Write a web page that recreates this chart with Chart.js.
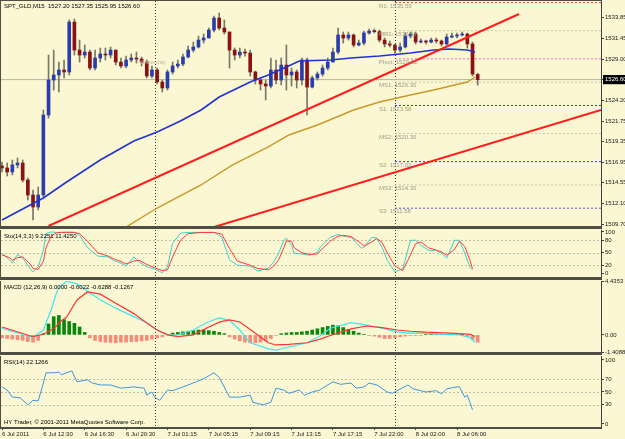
<!DOCTYPE html>
<html lang="en">

<head>
  <meta charset="UTF-8" />
  <title>SPT_GLD,M15</title>
  <script src="https://cdn.jsdelivr.net/npm/chart.js"></script>
  <style>
    body { margin: 0; background: #faf7d2; width: 625px; height: 439px; overflow: hidden; position: relative; }
    canvas { position: absolute; left: 0; }
  </style>
</head>

<body>
  <canvas id="priceChart" width="625" height="228" style="top:0px"></canvas>
  <canvas id="stochChart" width="625" height="54" style="top:226px"></canvas>
  <canvas id="macdChart" width="625" height="84" style="top:274px"></canvas>
  <canvas id="rsiChart" width="625" height="89" style="top:350px"></canvas>

  <script>
    // time axis (index = M15 bar number)
    const xTickIdx = [0, 16, 32, 48, 64, 80, 96, 112, 128, 144, 160, 176];
    const xTickLabels = ['6 Jul 2011', '6 Jul 12:30', '6 Jul 16:30', '6 Jul 20:30', '7 Jul 01:15', '7 Jul 05:15',
      '7 Jul 09:15', '7 Jul 13:15', '7 Jul 17:15', '7 Jul 22:00', '8 Jul 02:00', '8 Jul 06:00'];
    const daySeparators = [59, 152];

    // candles (one every 2 bars)
    const candleOpen = [1516.51, 1516.28, 1515.81, 1516.63, 1516.86, 1514.87, 1513.12, 1511.72, 1513.12, 1522.46,
      1526.55, 1527.14, 1527.72, 1527.49, 1533.32, 1530.05, 1529.47, 1529.82, 1527.95, 1529.12,
      1529.59, 1529.47, 1530.05, 1528.65, 1528.19, 1528.89, 1529.12, 1529.00, 1528.65, 1527.02,
      1527.72, 1526.32, 1525.62, 1527.49, 1528.19, 1528.42, 1529.24, 1530.05, 1530.41, 1531.22,
      1531.46, 1532.39, 1533.79, 1532.62, 1532.16, 1530.05, 1529.47, 1529.82, 1529.70, 1527.49,
      1526.55, 1526.09, 1525.85, 1527.72, 1526.55, 1528.30, 1527.14, 1527.49, 1526.55, 1528.89,
      1525.73, 1526.79, 1527.25, 1527.95, 1528.65, 1529.82, 1531.81, 1531.46, 1531.81, 1530.64,
      1530.87, 1532.04, 1532.27, 1532.20, 1531.22, 1530.76, 1530.64, 1530.05, 1530.41, 1531.69,
      1531.92, 1530.99, 1531.11, 1530.99, 1531.22, 1531.11, 1530.76, 1531.57, 1531.69, 1531.81,
      1531.92, 1530.76, 1527.20];
    const candleHigh = [1516.98, 1516.86, 1517.21, 1517.44, 1517.21, 1515.11, 1513.71, 1514.06, 1523.05, 1529.47,
      1530.05, 1528.65, 1528.89, 1533.56, 1533.67, 1531.22, 1530.64, 1530.05, 1530.05, 1530.29,
      1530.29, 1530.41, 1530.05, 1529.12, 1529.35, 1529.59, 1529.82, 1529.24, 1528.89, 1528.19,
      1527.95, 1526.55, 1527.72, 1528.65, 1528.89, 1529.59, 1530.52, 1530.99, 1531.69, 1531.92,
      1532.62, 1534.03, 1534.38, 1533.56, 1532.16, 1530.29, 1530.29, 1530.17, 1530.05, 1527.60,
      1526.79, 1526.55, 1529.12, 1528.89, 1529.12, 1530.64, 1527.95, 1527.72, 1529.12, 1529.12,
      1527.02, 1527.49, 1528.30, 1529.12, 1530.29, 1532.62, 1532.16, 1532.16, 1531.92, 1531.22,
      1532.27, 1532.51, 1532.51, 1532.39, 1531.46, 1531.11, 1530.76, 1530.87, 1532.04, 1532.16,
      1532.16, 1531.34, 1531.22, 1531.46, 1531.46, 1531.22, 1531.92, 1532.04, 1532.04, 1532.16,
      1532.04, 1530.99, 1527.35];
    const candleLow = [1515.81, 1515.34, 1515.46, 1516.28, 1514.64, 1512.54, 1510.20, 1511.37, 1512.89, 1522.11,
      1525.38, 1525.15, 1526.79, 1527.14, 1529.47, 1528.65, 1529.12, 1527.72, 1527.72, 1528.65,
      1528.89, 1529.12, 1528.30, 1527.95, 1527.95, 1528.65, 1528.54, 1528.19, 1526.79, 1526.79,
      1526.09, 1525.15, 1525.38, 1527.25, 1527.95, 1528.19, 1529.12, 1529.82, 1530.29, 1530.87,
      1531.46, 1532.16, 1532.39, 1531.92, 1527.95, 1528.89, 1529.12, 1529.35, 1527.02, 1526.09,
      1525.38, 1524.22, 1525.62, 1526.09, 1525.97, 1525.38, 1525.85, 1525.62, 1525.97, 1522.46,
      1525.62, 1526.55, 1527.02, 1527.72, 1528.65, 1529.59, 1530.87, 1531.22, 1530.41, 1530.52,
      1530.64, 1531.92, 1532.04, 1530.99, 1530.41, 1530.41, 1529.70, 1529.82, 1530.29, 1531.46,
      1530.76, 1530.87, 1530.76, 1530.87, 1530.87, 1530.52, 1530.64, 1531.46, 1531.46, 1531.69,
      1530.29, 1527.02, 1525.95];
    const candleClose = [1516.28, 1515.81, 1516.63, 1516.86, 1514.87, 1513.12, 1511.72, 1513.12, 1522.46, 1526.55,
      1527.14, 1527.72, 1527.49, 1533.32, 1530.05, 1529.47, 1529.82, 1527.95, 1529.12, 1529.59,
      1529.47, 1530.05, 1528.65, 1528.19, 1528.89, 1529.12, 1529.00, 1528.65, 1527.02, 1527.72,
      1526.32, 1525.62, 1527.49, 1528.19, 1528.42, 1529.24, 1530.05, 1530.41, 1531.22, 1531.46,
      1532.39, 1533.79, 1532.62, 1532.16, 1530.05, 1529.47, 1529.82, 1529.70, 1527.49, 1526.55,
      1526.09, 1525.85, 1527.72, 1526.55, 1528.30, 1527.14, 1527.49, 1526.55, 1528.89, 1525.73,
      1526.79, 1527.25, 1527.95, 1528.65, 1529.82, 1531.81, 1531.46, 1531.81, 1530.64, 1530.87,
      1532.04, 1532.27, 1532.20, 1531.22, 1530.76, 1530.64, 1530.05, 1530.41, 1531.69, 1531.92,
      1530.99, 1531.11, 1530.99, 1531.22, 1531.11, 1530.76, 1531.57, 1531.69, 1531.81, 1531.92,
      1530.76, 1527.25, 1526.60];

    // moving averages
    const maBlueX = [0, 16, 25, 38, 51, 60, 69, 77, 84, 96, 103, 110, 115, 127, 135, 146, 158, 167, 173, 180, 183];
    const maBlueY = [1510.20, 1512.77, 1514.64, 1517.21, 1519.43, 1520.48, 1521.76, 1523.05, 1524.57, 1526.32, 1527.14,
      1528.07, 1528.77, 1528.89, 1529.12, 1529.35, 1529.70, 1530.05, 1530.17, 1530.05, 1529.82];
    const maGoldX = [44, 48, 60, 77, 89, 103, 111, 122, 136, 146, 158, 167, 180, 183];
    const maGoldY = [1508.80, 1509.38, 1511.60, 1514.29, 1516.62, 1518.73, 1520.13, 1521.30, 1523.05, 1523.98,
      1524.80, 1525.38, 1526.32, 1526.90];

    // trend lines
    const trendUpperX = [18, 200];
    const trendUpperY = [1509.50, 1534.26];
    const trendLowerX = [82, 231.7];
    const trendLowerY = [1509.38, 1523.05];

    // pivot levels of 8 Jul
    const pivotNames = ['R1', 'MR1', 'Pivot', 'MS1', 'S1', 'MS2', 'S2', 'MS3', 'S3'];
    const pivotValues = [1535.59, 1532.31, 1529.02, 1526.30, 1523.58, 1520.30, 1517.02, 1514.30, 1511.58];
    const priceTicks = [1509.70, 1512.10, 1514.55, 1516.95, 1519.35, 1521.75, 1524.20, 1526.60, 1529.00, 1531.45, 1533.85];

    // Stochastic(14,3,3)
    const stochX = [0, 3, 4, 6, 8, 11, 12, 14, 16, 17, 19, 21, 23, 25, 28, 30, 33, 37, 41, 43, 46, 48, 51, 53, 56,
      59, 62, 64, 66, 69, 72, 77, 82, 85, 88, 91, 96, 99, 103, 105, 107, 109, 110, 112, 113, 116, 119, 122, 123,
      127, 130, 132, 135, 139, 140, 143, 145, 147, 149, 152, 155, 158, 160, 162, 165, 168, 170, 172, 175, 177, 179,
      181, 182];
    const stochMain = [49, 32, 25, 46, 37, 11, 4, 16, 56, 96, 100, 99, 99, 100, 99, 92, 63, 42, 40, 32, 25, 18, 40, 28, 16,
      11, 2, 16, 73, 97, 99, 99, 99, 88, 33, 20, 18, 6, 13, 27, 49, 80, 85, 68, 49, 47, 44, 51, 63, 87,
      94, 90, 87, 61, 63, 87, 85, 63, 32, 4, 11, 80, 80, 68, 56, 56, 49, 37, 80, 80, 49, 15, 9.2];
    const stochSignal = [45, 38, 32, 38, 40, 22, 12, 10, 30, 62, 90, 98, 99, 99, 99, 96, 78, 50, 42, 36, 29, 23, 30, 32, 22,
      14, 7, 9, 40, 80, 96, 99, 99, 95, 60, 30, 20, 12, 9, 17, 33, 62, 78, 78, 62, 50, 46, 47, 54, 78,
      90, 92, 89, 72, 66, 76, 84, 75, 50, 18, 7, 45, 72, 76, 62, 56, 52, 44, 58, 78, 65, 32, 11.4];
    const stochTicks = [0, 20, 50, 80, 100];
    const stochLevels = [20, 50, 80];

    // MACD(12,26,9)
    const macdX = [0, 12, 16, 19, 21, 22, 25, 29, 33, 38, 44, 51, 56, 60, 64, 68, 74, 79, 84, 88, 92, 96, 103, 106,
      111, 118, 123, 127, 135, 141, 147, 153, 158, 164, 171, 177, 181, 183];
    const macdMain = [0.55, -0.2, 0.4, 2.05, 3.4, 3.9, 4.42, 4.2, 3.6, 2.9, 2.2, 1.5, 1.0, 0.4, 0.0, 0.0, 0.4, 1.0, 1.4,
      1.2, 0.4, -0.65, -1.15, -1.25, -1.0, -0.65, -0.1, 0.55, 1.0, 0.8, 0.55, 0.25, 0.15, 0.15, 0.05, 0.0, -0.2, -0.63];
    const macdSignal = [0.65, -0.15, 0.05, 0.4, 0.7, 1.0, 1.47, 2.87, 3.53, 3.35, 2.6, 1.75, 0.98, 0.4, 0.0, -0.15, 0.0,
      0.55, 1.05, 1.23, 1.06, 0.45, -0.65, -0.83, -0.78, -0.65, -0.35, -0.05, 0.5, 0.73, 0.6, 0.4, 0.3, 0.22, 0.16,
      0.1, 0.05, -0.13];
    const macdHist = [-0.25, -0.3, -0.35, -0.4, -0.45, -0.55, -0.6, -0.45, 0.1, 0.9, 1.5, 1.6, 1.25, 1.1, 0.95, 0.65,
      0.2, -0.25, -0.45, -0.55, -0.6, -0.62, -0.65, -0.6, -0.6, -0.55, -0.55, -0.5, -0.45, -0.35, -0.25, -0.15,
      0.05, 0.15, 0.2, 0.25, 0.3, 0.35, 0.4, 0.4, 0.35, 0.3, 0.2, 0.1, -0.15, -0.35, -0.5, -0.6, -0.65, -0.65,
      -0.6, -0.5, -0.3, -0.05, 0.1, 0.15, 0.2, 0.2, 0.25, 0.3, 0.4, 0.5, 0.6, 0.7, 0.8, 0.75, 0.6, 0.45, 0.3,
      0.15, 0.05, -0.05, -0.1, -0.2, -0.3, -0.3, -0.25, -0.15, -0.1, -0.05, -0.05, -0.05, 0.05, 0.05, 0.05,
      0.03, 0.05, 0.05, 0.05, 0.03, -0.1, -0.4, -0.6];
    const macdTicks = [-1.4088, 0, 4.4353];

    // RSI(14)
    const rsiX = [0, 2, 4, 7, 10, 12, 14, 15, 16, 17, 20, 22, 23, 25, 27, 29, 33, 35, 38, 42, 46, 51, 55, 56, 58,
      59, 61, 64, 66, 72, 77, 79, 82, 84, 88, 92, 96, 97, 101, 104, 106, 109, 111, 115, 117, 120, 123, 124, 128,
      131, 135, 137, 140, 142, 145, 149, 151, 157, 159, 164, 168, 170, 172, 176, 177, 179, 180, 181, 182];
    const rsiVal = [58, 53, 42, 41, 30, 37, 36, 50, 64, 80, 80, 81, 77, 80, 83, 66, 69, 64, 61, 61, 56, 58, 56, 45, 50,
      42, 37, 53, 52, 61, 69, 73, 80, 73, 42, 42, 45, 34, 30, 34, 56, 53, 48, 53, 45, 50, 53, 56, 66,
      62, 64, 56, 58, 64, 61, 50, 48, 61, 55, 50, 52, 47, 55, 58, 58, 42, 45, 34, 22.1];
    const rsiTicks = [0, 30, 50, 70, 100];
    const rsiLevels = [30, 50, 70];

    // ---------------------------------------------------------------
    const FONT = 'Liberation Sans, Arial, sans-serif';
    const X_MIN = -0.39, X_MAX = 231.7;
    const lastClose = candleClose[candleClose.length - 1];
    const pivotColors = { R1: '#e03a3a', MR1: '#c6c6aa', Pivot: '#ee66d4', MS1: '#c6c6aa', S1: '#3333e4',
      MS2: '#c6c6aa', S2: '#3333e4', MS3: '#c6c6aa', S3: '#5656c6' };

    const pts = (xs, ys) => xs.map((x, i) => ({ x: x, y: ys[i] }));
    const barX = i => i * 2;

    function xScale(show) {
      const s = { type: 'linear', min: X_MIN, max: X_MAX, display: false, offset: false };
      if (show) {
        Object.assign(s, {
          display: true,
          afterBuildTicks: sc => { sc.ticks = xTickIdx.map(v => ({ value: v })); },
          afterFit: sc => { sc.height = 12; sc.paddingLeft = 0; sc.paddingRight = 0; },
          ticks: {
            autoSkip: false, maxRotation: 0, align: 'start', padding: 1, color: '#1a1a1a',
            font: { family: FONT, size: 6 }, callback: v => xTickLabels[xTickIdx.indexOf(v)]
          },
          grid: { drawOnChartArea: false, drawTicks: true, tickLength: 3, color: '#404040' },
          border: { display: false }
        });
      }
      return s;
    }

    function yScale(min, max, ticks, fmt, tickExtra) {
      return {
        type: 'linear', position: 'right', min: min, max: max,
        afterBuildTicks: sc => { sc.ticks = ticks.map(v => ({ value: v })); },
        afterFit: sc => { sc.width = 24; sc.paddingTop = 0; sc.paddingBottom = 0; },
        ticks: Object.assign({
          autoSkip: false, padding: 1, color: '#1a1a1a', font: { family: FONT, size: 6 }, callback: fmt
        }, tickExtra || {}),
        grid: { drawOnChartArea: false, drawTicks: true, tickLength: 3, color: '#404040' },
        border: { display: true, color: '#404040' }
      };
    }

    // frame, separators, dotted levels and panel texts
    function deco(cfg) {
      return {
        id: 'deco',
        beforeDatasetsDraw(chart) {
          const { ctx, chartArea: a, scales } = chart;
          ctx.save();
          ctx.lineWidth = 1;
          ctx.setLineDash([2, 2]);
          ctx.strokeStyle = '#bdbda2';
          (cfg.levels || []).forEach(v => {
            const py = Math.round(scales.y.getPixelForValue(v)) + 0.5;
            ctx.beginPath(); ctx.moveTo(a.left, py); ctx.lineTo(a.right, py); ctx.stroke();
          });
          ctx.setLineDash([1, 2]);
          ctx.strokeStyle = '#2e2e2e';
          daySeparators.forEach(v => {
            const px = Math.round(scales.x.getPixelForValue(v)) + 0.5;
            ctx.beginPath(); ctx.moveTo(px, a.top); ctx.lineTo(px, a.bottom); ctx.stroke();
          });
          ctx.restore();
        },
        afterDraw(chart) {
          const { ctx, chartArea: a } = chart;
          ctx.save();
          ctx.fillStyle = '#4e4e46';
          if (cfg.bandAbove) ctx.fillRect(0, a.top - 4, a.right + 1, 3);
          else ctx.fillRect(0, a.top - 1, a.right + 1, 1);
          if (cfg.bandBelow) ctx.fillRect(0, a.bottom, a.right + 1, 2);
          ctx.fillRect(0, a.top, 1, a.bottom - a.top);
          ctx.font = '6px ' + FONT;
          ctx.textBaseline = 'middle';
          ctx.textAlign = 'left';
          (cfg.texts || []).forEach(t => {
            ctx.fillStyle = t.color || '#000000';
            ctx.fillText(t.text, 4, t.bottom ? a.bottom - t.dy : a.top + t.dy);
          });
          if (cfg.extra) cfg.extra(chart, ctx);
          ctx.restore();
        }
      };
    }

    const baseOptions = (x, y) => ({
      responsive: false, maintainAspectRatio: false, animation: false, events: [],
      layout: { autoPadding: false },
      plugins: { legend: { display: false }, tooltip: { enabled: false } },
      scales: { x: x, y: y }
    });

    // ---------------- price panel ----------------
    const n = candleClose.length;
    const upColor = '#2b3cae', downColor = '#8c1212';
    const bodyColors = candleClose.map((c, i) => c >= candleOpen[i] ? upColor : downColor);

    const priceDatasets = [
      {
        type: 'bar', data: candleLow.map((l, i) => ({ x: barX(i), y: [l, candleHigh[i]] })),
        backgroundColor: '#77776a', barThickness: 1, grouped: false, order: 4
      },
      {
        type: 'bar', data: candleOpen.map((o, i) => ({ x: barX(i), y: [o, candleClose[i]] })),
        backgroundColor: bodyColors, barThickness: 3, minBarLength: 1, grouped: false, order: 3
      },
      {
        type: 'line', data: [{ x: X_MIN, y: lastClose }, { x: X_MAX, y: lastClose }],
        borderColor: '#b3b79b', borderWidth: 1, pointRadius: 0, order: 6
      },
      {
        type: 'line', data: pts(maGoldX, maGoldY), borderColor: '#c8992a', borderWidth: 1.4,
        pointRadius: 0, order: 1
      },
      {
        type: 'line', data: pts(maBlueX, maBlueY), borderColor: '#1f33d6', borderWidth: 1.6,
        pointRadius: 0, order: 1
      },
      {
        type: 'line', data: pts(trendUpperX, trendUpperY), borderColor: '#ff1c1c', borderWidth: 2,
        pointRadius: 0, order: 0
      },
      {
        type: 'line', data: pts(trendLowerX, trendLowerY), borderColor: '#ff1c1c', borderWidth: 2,
        pointRadius: 0, order: 0
      }
    ];
    pivotNames.forEach((name, i) => {
      priceDatasets.push({
        type: 'line', data: [{ x: daySeparators[1], y: pivotValues[i] }, { x: X_MAX, y: pivotValues[i] }],
        borderColor: pivotColors[name], borderWidth: 1, borderDash: [2, 2], pointRadius: 0, order: 7
      });
    });

    const header = 'SPT_GLD,M15  ' + [candleOpen[n - 1], candleHigh[n - 1], candleLow[n - 1], candleClose[n - 1]]
      .map(v => v.toFixed(2)).join(' ');

    const priceOpts = baseOptions(
      xScale(false),
      yScale(1509.50, 1535.78, priceTicks, v => v.toFixed(2), {
        color: c => c.tick && c.tick.value === lastClose ? '#ffffff' : '#1a1a1a',
        showLabelBackdrop: c => !!(c.tick && c.tick.value === lastClose),
        backdropColor: '#000000',
        backdropPadding: { top: 1, bottom: 1, left: 2, right: 4 }
      })
    );
    priceOpts.layout.padding = { left: 1, top: 1, right: 0, bottom: 2 };

    new Chart(document.getElementById('priceChart'), {
      type: 'line',
      data: { datasets: priceDatasets },
      options: priceOpts,
      plugins: [deco({
        texts: [{ text: header, dy: 5 }],
        extra: (chart, ctx) => {
          const { x, y } = chart.scales;
          ctx.fillStyle = '#9d9c88';
          const lx = x.getPixelForValue(daySeparators[1]) - 16;
          pivotNames.forEach((name, i) => {
            ctx.fillText(name + ': ' + pivotValues[i].toFixed(2), lx, y.getPixelForValue(pivotValues[i]) + 3.5);
          });
          ctx.fillStyle = '#c2c0a6';
          ctx.textAlign = 'center';
          ctx.fillText('Yesterday', x.getPixelForValue(daySeparators[0]) - 2, y.getPixelForValue(1528.65));
        }
      })]
    });

    // ---------------- stochastic ----------------
    const stochOpts = baseOptions(xScale(false), yScale(-8.4, 104.8, stochTicks, v => String(v)));
    stochOpts.layout.padding = { left: 1, top: 4, right: 0, bottom: 3 };
    new Chart(document.getElementById('stochChart'), {
      type: 'line',
      data: {
        datasets: [
          { data: pts(stochX, stochMain), borderColor: '#3fcfcf', borderWidth: 1, pointRadius: 0, order: 1 },
          { data: pts(stochX, stochSignal), borderColor: '#ff3a3a', borderWidth: 1, pointRadius: 0, order: 0 }
        ]
      },
      options: stochOpts,
      plugins: [deco({ bandAbove: true, levels: stochLevels, texts: [{ text: 'Sto(14,3,3) 9.2251 11.4250', dy: 6 }] })]
    });

    // ---------------- MACD ----------------
    const macdOpts = baseOptions(xScale(false),
      yScale(-1.4088, 4.4353, macdTicks, v => v === 0 ? '0.00' : v.toFixed(4)));
    macdOpts.layout.padding = { left: 1, top: 7, right: 0, bottom: 6 };
    new Chart(document.getElementById('macdChart'), {
      type: 'line',
      data: {
        datasets: [
          {
            type: 'bar', data: macdHist.map((v, i) => ({ x: barX(i), y: v })),
            backgroundColor: macdHist.map(v => v >= 0 ? '#0b870b' : '#f48c7a'),
            barThickness: 3, grouped: false, order: 2
          },
          { data: pts(macdX, macdMain), borderColor: '#3ee6ee', borderWidth: 1.2, pointRadius: 0, order: 1 },
          { data: pts(macdX, macdSignal), borderColor: '#ff3434', borderWidth: 1.2, pointRadius: 0, order: 0 }
        ]
      },
      options: macdOpts,
      plugins: [deco({ bandAbove: true, texts: [{ text: 'MACD (12,26,9) 0.0000 -0.6022 -0.6288 -0.1267', dy: 6 }] })]
    });

    // ---------------- RSI ----------------
    const rsiOpts = baseOptions(xScale(true), yScale(-4.7, 106.25, rsiTicks, v => String(v)));
    rsiOpts.layout.padding = { left: 1, top: 6, right: 0, bottom: 0 };
    new Chart(document.getElementById('rsiChart'), {
      type: 'line',
      data: {
        datasets: [
          { data: pts(rsiX, rsiVal), borderColor: '#3a98e4', borderWidth: 1, pointRadius: 0 }
        ]
      },
      options: rsiOpts,
      plugins: [deco({
        bandAbove: true, bandBelow: true, levels: rsiLevels,
        texts: [
          { text: 'RSI(14) 22.1266', dy: 6 },
          { text: 'HY Trader, \u00a9 2001-2011 MetaQuotes Software Corp.', dy: 5, bottom: true }
        ]
      })]
    });
  </script>
</body>

</html>
